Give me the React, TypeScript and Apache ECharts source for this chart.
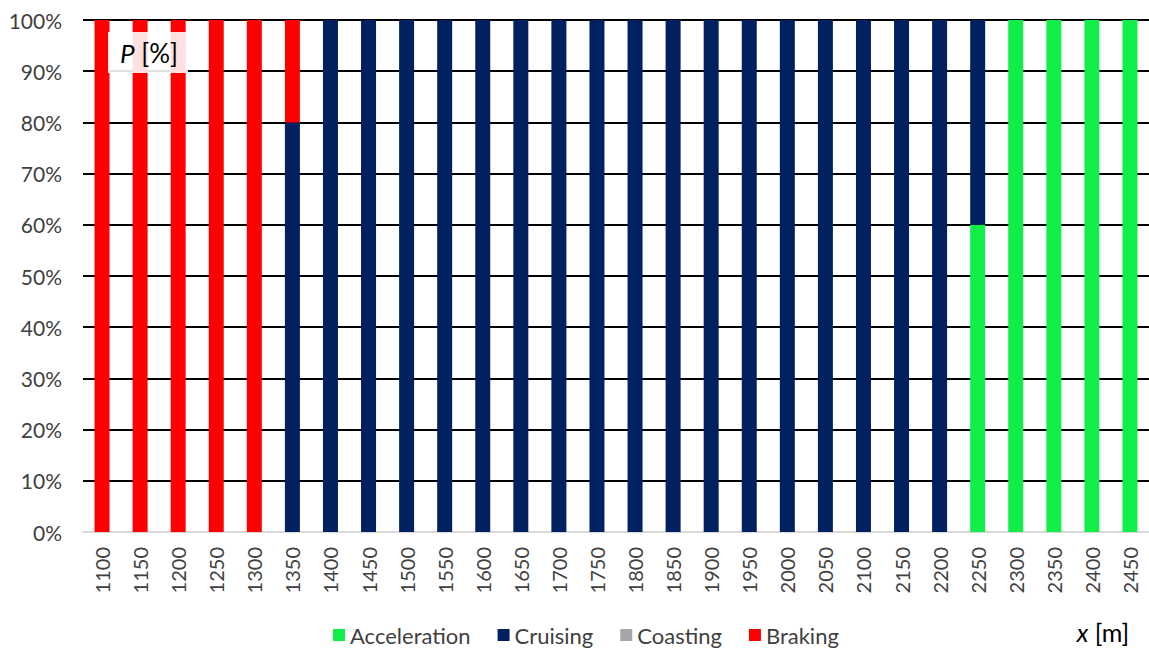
import React, { useEffect, useRef } from "react";
import * as echarts from "echarts";

const categories = ["1100","1150","1200","1250","1300","1350","1400","1450","1500","1550","1600","1650","1700","1750","1800","1850","1900","1950","2000","2050","2100","2150","2200","2250","2300","2350","2400","2450"];
const acceleration = [0,0,0,0,0,0,0,0,0,0,0,0,0,0,0,0,0,0,0,0,0,0,0,60,100,100,100,100];
const cruising = [0,0,0,0,0,80,100,100,100,100,100,100,100,100,100,100,100,100,100,100,100,100,100,40,0,0,0,0];
const coasting = [0,0,0,0,0,0,0,0,0,0,0,0,0,0,0,0,0,0,0,0,0,0,0,0,0,0,0,0];
const braking = [100,100,100,100,100,20,0,0,0,0,0,0,0,0,0,0,0,0,0,0,0,0,0,0,0,0,0,0];
const yTicks = [0, 10, 20, 30, 40, 50, 60, 70, 80, 90, 100];

const FONT = "Lato, 'Open Sans', sans-serif";

export default function App() {
  const ref = useRef<HTMLDivElement>(null);
  useEffect(() => {
    const chart = echarts.init(ref.current!, null, { renderer: "svg" });
    const mk = (name: string, data: number[], color: string) => ({
      name,
      type: "bar",
      stack: "p",
      data,
      barWidth: 15,
      itemStyle: { color },
    });
    chart.setOption({
      animation: false,
      backgroundColor: "#ffffff",
      grid: { left: 83, right: 0, top: 20, bottom: 116, containLabel: false },
      legend: {
        left: 333,
        top: 624,
        padding: 0,
        itemWidth: 12,
        itemHeight: 12,
        itemGap: 27,
        icon: "rect",
        textStyle: { fontFamily: FONT, fontSize: 22, color: "#404040" },
        data: ["Acceleration", "Cruising", "Coasting", "Braking"],
      },
      xAxis: {
        type: "category",
        data: categories,
        axisLine: { show: true, lineStyle: { color: "#d9d9d9", width: 2 } },
        axisTick: { show: false },
        axisLabel: {
          rotate: 90,
          interval: 0,
          margin: 15,
          fontFamily: FONT,
          fontSize: 20,
          color: "#404040",
        },
      },
      yAxis: {
        type: "value",
        min: 0,
        max: 100,
        interval: 10,
        axisLine: { show: false },
        axisTick: { show: false },
        splitLine: { lineStyle: { color: "#000000", width: 2 } },
        axisLabel: {
          formatter: (v: number) => (yTicks.includes(v) ? v + "%" : ""),
          margin: 21,
          fontFamily: FONT,
          fontSize: 21,
          color: "#404040",
        },
      },
      graphic: [
        {
          type: "rect",
          shape: { x: 108, y: 32, width: 80, height: 41 },
          style: { fill: "rgba(255,255,255,0.88)" },
          z: 100,
        },
        {
          type: "text",
          x: 149,
          y: 53,
          z: 101,
          style: {
            text: "{i|P} [%]",
            align: "center",
            verticalAlign: "middle",
            rich: {
              i: { fontStyle: "italic", fontFamily: FONT, fontSize: 26, fill: "#000" },
            },
            font: `26px ${FONT}`,
            fill: "#000",
          },
        },
        {
          type: "text",
          x: 1103,
          y: 632,
          z: 101,
          style: {
            text: "{i|x} [m]",
            align: "center",
            verticalAlign: "middle",
            rich: {
              i: { fontStyle: "italic", fontFamily: FONT, fontSize: 25, fill: "#000" },
            },
            font: `25px ${FONT}`,
            fill: "#000",
          },
        },
      ],
      series: [
        mk("Acceleration", acceleration, "#12ee48"),
        mk("Cruising", cruising, "#002060"),
        mk("Coasting", coasting, "#a5a5a5"),
        mk("Braking", braking, "#ff0000"),
      ],
    });
    return () => chart.dispose();
  }, []);
  return <div ref={ref} style={{ position: "fixed", left: 0, top: 0, width: 1149, height: 648 }} />;
}
